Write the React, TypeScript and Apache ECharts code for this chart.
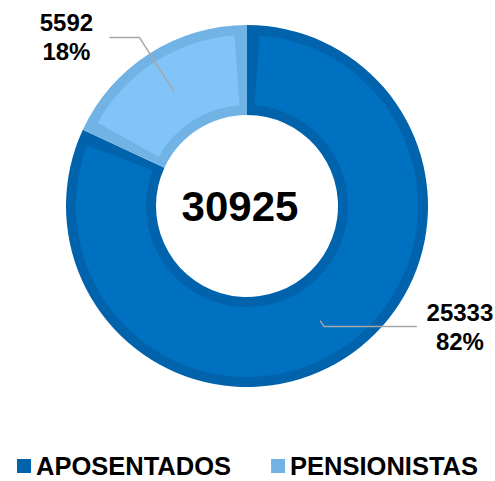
import React, { useEffect, useRef } from 'react';
import * as echarts from 'echarts';

const categories = ['APOSENTADOS', 'PENSIONISTAS'];
const values = [25333, 5592];
const fillColors = ['#0070C0', '#80C4F8'];
const borderColors = ['#0063AC', '#70B3E4'];
const lineLen1 = [7, 64];
const lineLen2 = [93, 30];

export default function App() {
  const ref = useRef<HTMLDivElement>(null);
  useEffect(() => {
    document.body.style.margin = '0';
    const chart = echarts.init(ref.current!, null, { renderer: 'svg' });
    const total = values.reduce((a, b) => a + b, 0);
    const font = 'Liberation Sans, Arial, sans-serif';
    const center = [247, 206];
    chart.setOption({
      animation: false,
      legend: {
        left: 12,
        top: 448,
        padding: [5, 5, 0, 5],
        itemWidth: 14,
        itemHeight: 14,
        itemGap: 40,
        icon: 'rect',
        selectedMode: false,
        textStyle: { fontFamily: font, fontWeight: 'bold', fontSize: 25.5, lineHeight: 20, color: '#000' },
        data: categories.map((c, i) => ({ name: c, itemStyle: { color: borderColors[i] } })),
      },
      graphic: [
        {
          type: 'text',
          x: 240,
          y: 206,
          style: {
            text: String(total),
            fontFamily: font,
            fontWeight: 'bold',
            fontSize: 42,
            fill: '#000',
            align: 'center',
            verticalAlign: 'middle',
            textAlign: 'center',
            textVerticalAlign: 'middle',
          },
        },
      ],
      series: [
        {
          type: 'pie',
          center,
          radius: [91, 181],
          silent: true,
          z: 1,
          label: { show: false },
          labelLine: { show: false },
          data: categories.map((c, i) => ({ name: c, value: values[i], itemStyle: { color: borderColors[i] } })),
        },
        {
          type: 'pie',
          center,
          radius: [101, 171],
          padAngle: 8.4,
          silent: true,
          z: 2,
          label: { show: false },
          labelLine: { show: false },
          data: categories.map((c, i) => ({ name: c, value: values[i], itemStyle: { color: fillColors[i] } })),
        },
        {
          type: 'pie',
          center,
          radius: [0, 136],
          silent: true,
          z: 3,
          percentPrecision: 0,
          itemStyle: { color: 'rgba(0,0,0,0)' },
          label: {
            show: true,
            position: 'outside',
            bleedMargin: 0,
            distanceToLabelLine: 10,
            formatter: (p: any) => `{v|${p.value}}\n{v|${p.percent}%}`,
            rich: {
              v: {
                width: 66,
                align: 'center',
                fontFamily: font,
                fontWeight: 'bold',
                fontSize: 24,
                lineHeight: 29,
                color: '#000',
              },
            },
          },
          labelLine: { show: true, lineStyle: { color: '#A6A6A6', width: 1.5 } },
          data: categories.map((c, i) => ({
            name: c,
            value: values[i],
            itemStyle: { color: 'rgba(0,0,0,0)' },
            labelLine: { length: lineLen1[i], length2: lineLen2[i] },
          })),
        },
      ],
    });
    return () => chart.dispose();
  }, []);
  return <div ref={ref} style={{ width: 495, height: 481 }} />;
}
